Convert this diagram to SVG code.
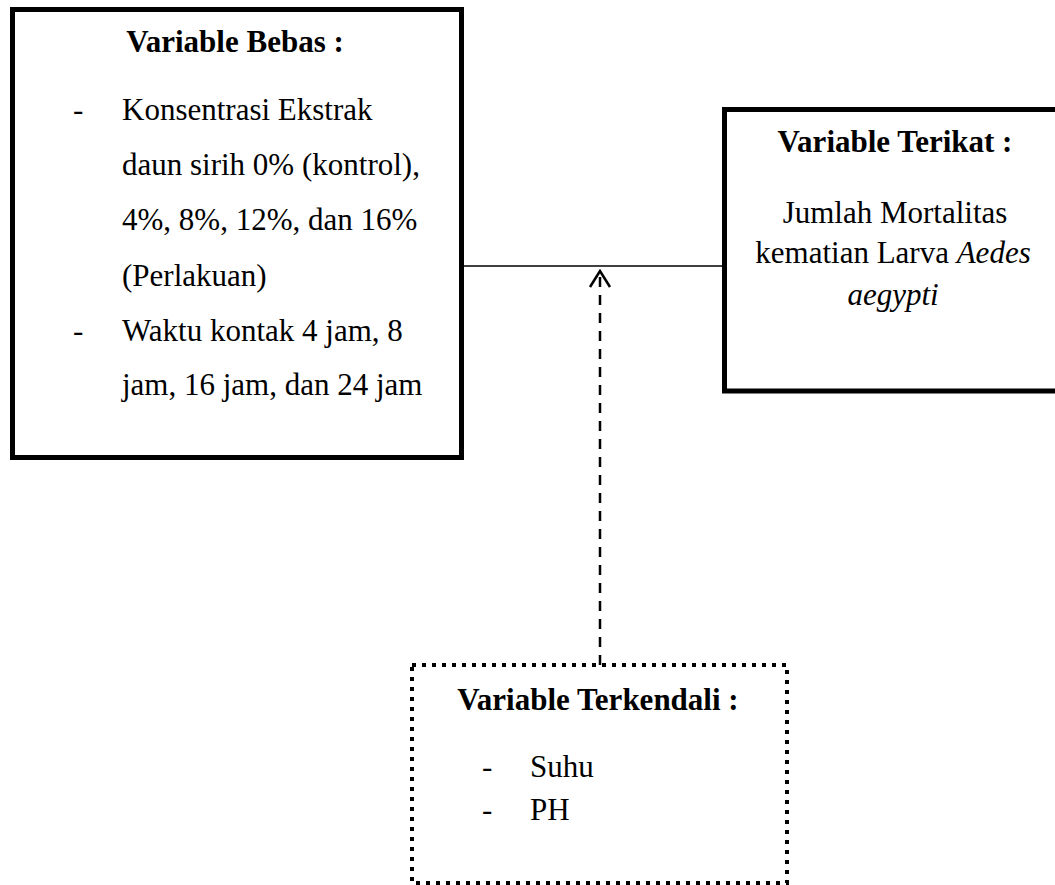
<svg xmlns="http://www.w3.org/2000/svg" width="1055" height="885" viewBox="0 0 1055 885">
<style>
.box{fill:#fff;stroke:#000;stroke-width:5}
.dot{fill:none;stroke:#000;stroke-width:4;stroke-dasharray:4 6}
.t{font-family:"Liberation Serif","Times New Roman",serif;font-size:31px;fill:#000}
.b{font-weight:bold}
.m{text-anchor:middle}
.conn{fill:none;stroke:#000;stroke-width:1.5}
.dash{fill:none;stroke:#000;stroke-width:2.5;stroke-dasharray:10 8}
</style>
<defs>
<marker id="open" viewBox="0 0 20 24" refX="18" refY="12" markerWidth="20" markerHeight="24" markerUnits="userSpaceOnUse" orient="auto">
<path d="M2,2 L18,12 L2,22" fill="none" stroke="#000" stroke-width="2.5"/>
</marker>
</defs>
<g id="connectors">
<line class="conn" x1="461" y1="266" x2="724" y2="266"/>
<line class="dash" x1="600" y1="665" x2="600" y2="271" marker-end="url(#open)"/>
</g>
<g id="bebas">
<rect class="box" x="12.5" y="9.5" width="449" height="448"/>
<text class="t b m" x="235" y="52">Variable Bebas :</text>
<text class="t" x="73" y="120">-</text>
<text class="t" x="122" y="120">Konsentrasi Ekstrak</text>
<text class="t" x="122" y="175">daun sirih 0% (kontrol),</text>
<text class="t" x="122" y="230">4%, 8%, 12%, dan 16%</text>
<text class="t" x="122" y="286">(Perlakuan)</text>
<text class="t" x="73" y="341">-</text>
<text class="t" x="122" y="341">Waktu kontak 4 jam, 8</text>
<text class="t" x="122" y="395">jam, 16 jam, dan 24 jam</text>
</g>
<g id="terikat">
<path class="box" d="M1060,109.5 H724.5 V391 H1060"/>
<text class="t b m" x="895" y="152">Variable Terikat :</text>
<text class="t m" x="895" y="223">Jumlah Mortalitas</text>
<text class="t m" x="893" y="263">kematian Larva <tspan font-style="italic">Aedes</tspan></text>
<text class="t m" x="893" y="305" font-style="italic">aegypti</text>
</g>
<g id="terkendali">
<rect class="dot" x="412" y="665" width="375" height="218"/>
<text class="t b m" x="598" y="710">Variable Terkendali :</text>
<text class="t" x="482" y="777">-</text>
<text class="t" x="530" y="777">Suhu</text>
<text class="t" x="482" y="820">-</text>
<text class="t" x="530" y="820">PH</text>
</g>
</svg>
